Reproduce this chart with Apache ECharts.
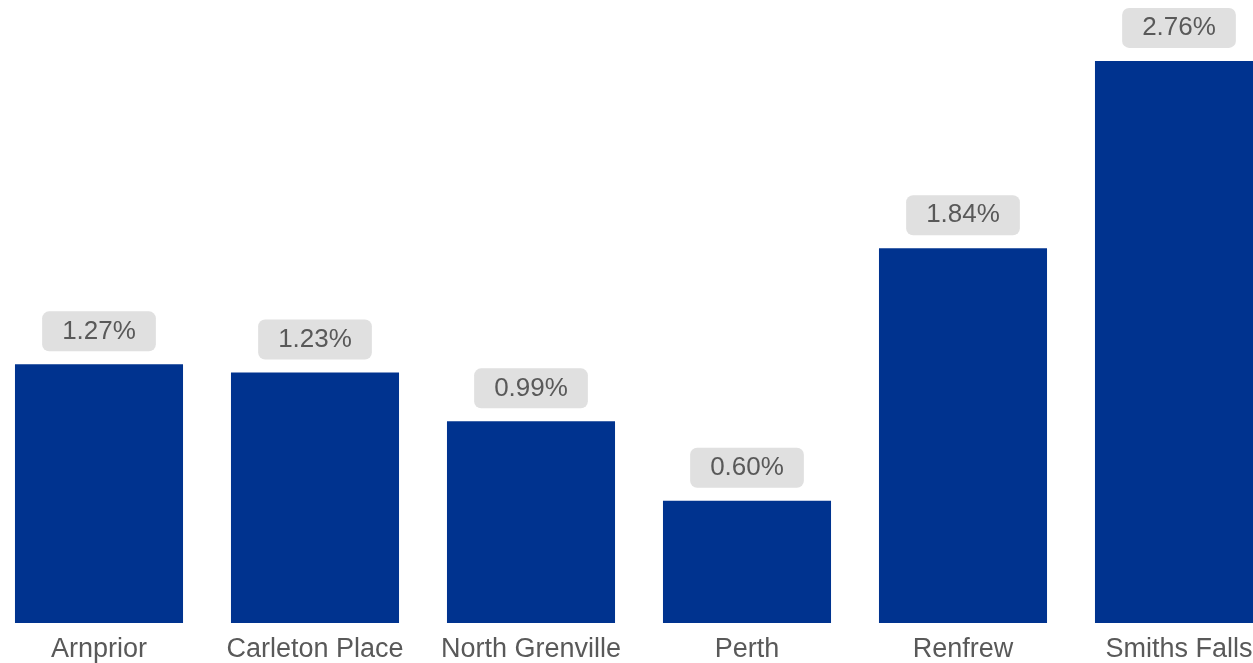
<!DOCTYPE html>
<html>
<head>
<meta charset="utf-8">
<script src="https://cdn.jsdelivr.net/npm/echarts@6/dist/echarts.min.js"></script>
<style>
  html, body { margin: 0; padding: 0; background: #ffffff; overflow: hidden; }
  #wrap { position: relative; width: 1253px; height: 663px; overflow: hidden; }
  /* The plot runs slightly past both edges of the frame */
  #chart { position: absolute; left: -9px; top: 0; width: 1296px; height: 663px; }
</style>
</head>
<body>
<div id="wrap"><div id="chart"></div></div>
<script>
// Town names along the category axis
const towns = ['Arnprior', 'Carleton Place', 'North Grenville', 'Perth', 'Renfrew', 'Smiths Falls'];
// Percentage values per town
const rates = [1.27, 1.23, 0.99, 0.60, 1.84, 2.76];

const chart = echarts.init(document.getElementById('chart'), null, { renderer: 'canvas' });

chart.setOption({
  backgroundColor: '#ffffff',
  animation: false,
  grid: { left: 0, right: 0, top: 12, bottom: 40, containLabel: false },
  xAxis: {
    type: 'category',
    data: towns,
    axisLine: { show: false },
    axisTick: { show: false },
    axisLabel: {
      color: '#595959',
      fontFamily: 'Liberation Sans, Arial, sans-serif',
      fontSize: 27,
      margin: 13,
      interval: 0
    }
  },
  yAxis: {
    type: 'value',
    min: 0,
    max: 3,
    show: false,
    splitLine: { show: false }
  },
  series: [{
    type: 'bar',
    data: rates,
    barCategoryGap: '22.2%',
    itemStyle: { color: '#00338f' },
    label: {
      show: true,
      position: 'top',
      distance: 13,
      formatter: p => p.value.toFixed(2) + '%',
      color: '#595959',
      fontFamily: 'Liberation Sans, Arial, sans-serif',
      fontSize: 26,
      lineHeight: 26,
      backgroundColor: '#e0e0e0',
      borderRadius: 7,
      padding: [7, 20, 7, 20]
    }
  }]
});
</script>
</body>
</html>
